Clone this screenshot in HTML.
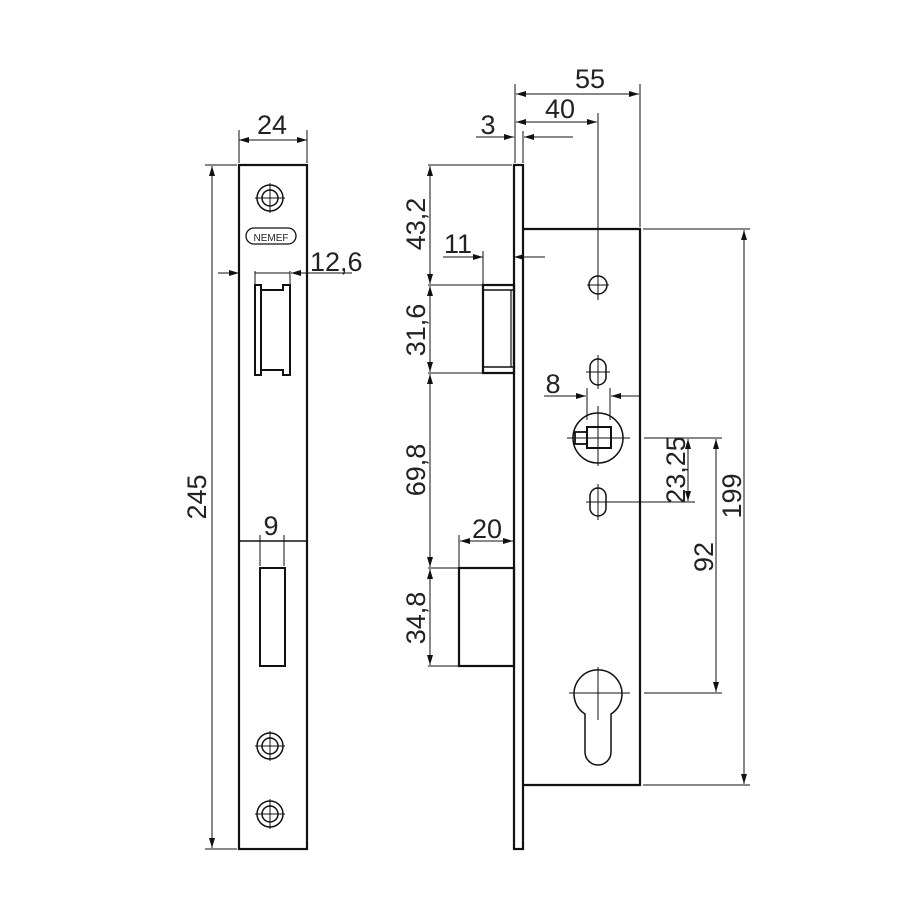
<!DOCTYPE html>
<html><head><style>html,body{margin:0;padding:0;background:#fff}svg{display:block}</style></head>
<body>
<svg width="900" height="900" viewBox="0 0 900 900" xmlns="http://www.w3.org/2000/svg" font-family="Liberation Sans, sans-serif" font-size="27" fill="none" stroke="#111">
<defs>
<marker id="a" viewBox="0 0 10 6" refX="10" refY="3" markerWidth="10" markerHeight="6" orient="auto-start-reverse" markerUnits="userSpaceOnUse"><path d="M0,0L10,3L0,6z" fill="#111" stroke="none"/></marker>
</defs>
<g stroke-width="1">
<!-- LEFT faceplate -->
<rect x="239" y="165" width="68" height="684" stroke-width="2.2"/>
<line x1="239" y1="130" x2="239" y2="163"/><line x1="307" y1="130" x2="307" y2="163"/>
<line x1="239" y1="140" x2="307" y2="140" marker-start="url(#a)" marker-end="url(#a)"/>
<line x1="205" y1="165" x2="237" y2="165"/><line x1="205" y1="849" x2="237" y2="849"/>
<line x1="212" y1="166" x2="212" y2="848" marker-start="url(#a)" marker-end="url(#a)"/>
<circle cx="270" cy="198" r="13" stroke-width="1.5"/><circle cx="270" cy="198" r="8" stroke-width="1.5"/>
<line x1="255" y1="198" x2="285" y2="198"/><line x1="270" y1="183" x2="270" y2="213"/>
<rect x="246" y="228" width="50" height="16" rx="8" stroke-width="1.3"/>
<line x1="218" y1="273" x2="239" y2="273" marker-end="url(#a)"/>
<line x1="307" y1="273" x2="352" y2="273"/><line x1="291" y1="273" x2="307" y2="273" marker-start="url(#a)"/>
<line x1="255" y1="271" x2="255" y2="285"/><line x1="290" y1="271" x2="290" y2="285"/>
<line x1="255" y1="273" x2="290" y2="273"/>
<rect x="255" y="285" width="6" height="90" stroke-width="2"/>
<path d="M261 290H283V285H290V375H283V370H261" stroke-width="2"/>
<line x1="239" y1="541" x2="307" y2="541" stroke-width="1.5"/>
<line x1="260" y1="535" x2="260" y2="566"/><line x1="284" y1="535" x2="284" y2="566"/>
<rect x="260" y="568" width="25" height="98" stroke-width="2"/>
<circle cx="270" cy="746" r="13" stroke-width="1.5"/><circle cx="270" cy="746" r="8" stroke-width="1.5"/>
<line x1="255" y1="746" x2="285" y2="746"/><line x1="270" y1="731" x2="270" y2="761"/>
<circle cx="270" cy="814" r="13" stroke-width="1.5"/><circle cx="270" cy="814" r="8" stroke-width="1.5"/>
<line x1="255" y1="814" x2="285" y2="814"/><line x1="270" y1="799" x2="270" y2="829"/>

<!-- RIGHT side view -->
<rect x="514" y="165" width="9" height="684" stroke-width="2.2"/>
<path d="M523 229H640V785H523" stroke-width="2.2"/>
<line x1="515" y1="84" x2="515" y2="163"/><line x1="640" y1="84" x2="640" y2="227"/>
<line x1="516" y1="94" x2="639" y2="94" marker-start="url(#a)" marker-end="url(#a)"/>
<line x1="598" y1="113" x2="598" y2="300"/>
<line x1="516" y1="122" x2="597" y2="122" marker-start="url(#a)" marker-end="url(#a)"/>
<line x1="523" y1="131" x2="523" y2="163"/>
<line x1="476" y1="137" x2="514" y2="137" marker-end="url(#a)"/>
<line x1="524" y1="137" x2="573" y2="137" marker-start="url(#a)"/>
<line x1="428" y1="165" x2="512" y2="165"/>
<line x1="430" y1="166" x2="430" y2="284" marker-start="url(#a)" marker-end="url(#a)"/>
<line x1="443" y1="257" x2="483" y2="257" marker-end="url(#a)"/>
<line x1="514" y1="257" x2="545" y2="257" marker-start="url(#a)"/>
<line x1="483" y1="251" x2="483" y2="285"/>
<line x1="428" y1="285" x2="483" y2="285"/>
<rect x="483" y="285" width="31" height="88" stroke-width="2.2"/>
<line x1="483" y1="290" x2="514" y2="290" stroke-width="1.5"/><line x1="483" y1="367" x2="514" y2="367" stroke-width="1.5"/>
<line x1="511" y1="290" x2="511" y2="367" stroke-width="1.2"/>
<line x1="430" y1="286" x2="430" y2="372" marker-start="url(#a)" marker-end="url(#a)"/>
<line x1="428" y1="373" x2="483" y2="373"/>
<line x1="430" y1="374" x2="430" y2="567" marker-start="url(#a)" marker-end="url(#a)"/>
<line x1="428" y1="568" x2="459" y2="568"/><line x1="428" y1="666" x2="459" y2="666"/>
<line x1="430" y1="569" x2="430" y2="665" marker-start="url(#a)" marker-end="url(#a)"/>
<rect x="459" y="568" width="55" height="98" stroke-width="2.2"/>
<line x1="459" y1="535" x2="459" y2="568"/>
<line x1="460" y1="541" x2="513" y2="541" marker-start="url(#a)" marker-end="url(#a)"/>
<!-- holes -->
<circle cx="598" cy="285" r="9" stroke-width="1.5"/><line x1="587" y1="285" x2="609" y2="285"/>
<rect x="590" y="359" width="16" height="26" rx="8" stroke-width="1.5"/><line x1="586" y1="372" x2="610" y2="372"/><line x1="598" y1="355" x2="598" y2="389"/>
<line x1="544" y1="396" x2="586" y2="396" marker-end="url(#a)"/><line x1="611" y1="396" x2="640" y2="396" marker-start="url(#a)"/>
<line x1="587" y1="388" x2="587" y2="420"/><line x1="610" y1="388" x2="610" y2="420"/>
<circle cx="598" cy="438" r="25" stroke-width="1.5"/>
<rect x="587" y="427" width="24" height="21" stroke-width="2"/>
<rect x="575" y="432" width="12" height="12" stroke-width="1.8"/>
<line x1="567" y1="438" x2="630" y2="438"/><line x1="598" y1="406" x2="598" y2="466"/>
<line x1="644" y1="438" x2="722" y2="438"/>
<rect x="590" y="488" width="16" height="28" rx="8" stroke-width="1.5"/><line x1="586" y1="502" x2="695" y2="502"/><line x1="598" y1="484" x2="598" y2="520"/>
<line x1="688" y1="439" x2="688" y2="501" marker-start="url(#a)" marker-end="url(#a)"/>
<line x1="716" y1="439" x2="716" y2="692" marker-start="url(#a)" marker-end="url(#a)"/>
<path d="M585 714A24 24 0 1 1 611 714V752A13 13 0 0 1 585 752Z" stroke-width="1.5"/>
<line x1="569" y1="693" x2="630" y2="693"/><line x1="598" y1="667" x2="598" y2="720"/>
<line x1="644" y1="693" x2="722" y2="693"/>
<line x1="643" y1="229" x2="750" y2="229"/><line x1="643" y1="785" x2="750" y2="785"/>
<line x1="744" y1="230" x2="744" y2="784" marker-start="url(#a)" marker-end="url(#a)"/>
</g>
<g fill="#222" stroke="none">
<text x="272" y="134" text-anchor="middle">24</text>
<text x="310" y="271">12,6</text>
<text x="0" y="0" transform="translate(206,497) rotate(-90)" text-anchor="middle">245</text>
<text x="271" y="535" text-anchor="middle">9</text>
<text x="590" y="88" text-anchor="middle">55</text>
<text x="560" y="118" text-anchor="middle">40</text>
<text x="488" y="134" text-anchor="middle">3</text>
<text x="458" y="253" text-anchor="middle">11</text>
<text x="0" y="0" transform="translate(425,224) rotate(-90)" text-anchor="middle">43,2</text>
<text x="0" y="0" transform="translate(425,330) rotate(-90)" text-anchor="middle">31,6</text>
<text x="0" y="0" transform="translate(425,470) rotate(-90)" text-anchor="middle">69,8</text>
<text x="0" y="0" transform="translate(425,618) rotate(-90)" text-anchor="middle">34,8</text>
<text x="487" y="538" text-anchor="middle">20</text>
<text x="553" y="393" text-anchor="middle">8</text>
<text x="0" y="0" transform="translate(685,470) rotate(-90)" text-anchor="middle">23,25</text>
<text x="0" y="0" transform="translate(713,557) rotate(-90)" text-anchor="middle">92</text>
<text x="0" y="0" transform="translate(741,496) rotate(-90)" text-anchor="middle">199</text>
<text x="271" y="241" text-anchor="middle" font-size="10">NEMEF</text>
</g>
</svg>
</body></html>
